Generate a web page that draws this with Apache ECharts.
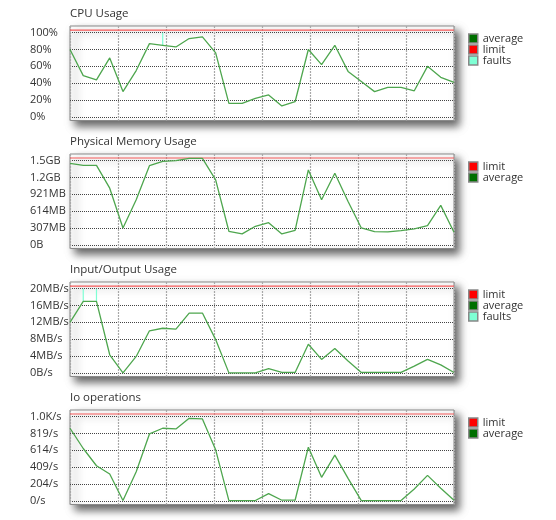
<!DOCTYPE html>
<html>
<head>
<meta charset="utf-8">
<script src="https://cdn.jsdelivr.net/npm/echarts@6/dist/echarts.min.js"></script>
<style>
html,body{margin:0;padding:0;background:#fff;}
#main{width:556px;height:520px;}
</style>
</head>
<body>
<div id="main"></div>
<script>
// ---- data (30 samples per panel) ----
const sampleIndex = [0,1,2,3,4,5,6,7,8,9,10,11,12,13,14,15,16,17,18,19,20,21,22,23,24,25,26,27,28,29];
const xGridTicks = [0,3.625,7.25,10.875,14.5,18.125,21.75,25.375,29];

const titles = ['CPU Usage','Physical Memory Usage','Input/Output Usage','Io operations'];

// CPU (%)
const cpuAverage = [80,49,44,70,30,55,87,85,83,93,95,76,16,16,22,26,13,18,80,62,85,54,42,30,35,35,31,60,47,41];
const cpuLimit = 103;
const cpuFaultIdx = [7];
const cpuFaultTop = 100;
const cpuTicks = [0,20,40,60,80,100];
const cpuTickLabels = ['0%','20%','40%','60%','80%','100%'];

// Physical memory (MB)
const memAverage = [1488,1451,1451,1034,308,822,1445,1524,1536,1576,1576,1185,248,200,339,405,200,266,1367,822,1306,792,308,242,236,260,290,351,720,230];
const memLimit = 1584;
const memTicks = [0,307.2,614.4,921.6,1228.8,1536];
const memTickLabels = ['0B','307MB','614MB','921MB','1.2GB','1.5GB'];

// I/O (MB/s)
const ioAverage = [12.0,17.0,17.0,4.3,0,3.9,10.0,10.6,10.4,14.2,14.2,7.9,0,0,0,1.0,0.1,0.1,6.8,3.2,5.8,2.8,0.1,0.1,0.1,0.1,1.6,3.2,1.9,0.1];
const ioLimit = 20.6;
const ioFaultIdx = [1,2];
const ioFaultTop = 20;
const ioTicks = [0,4,8,12,16,20];
const ioTickLabels = ['0B/s','4MB/s','8MB/s','12MB/s','16MB/s','20MB/s'];

// Io operations (/s)
const opsAverage = [883,637,427,327,5,355,814,883,875,1004,996,621,4,4,4,89,8,8,653,286,556,274,4,4,4,4,145,310,153,8];
const opsLimit = 1056;
const opsTicks = [0,204.8,409.6,614.4,819.2,1024];
const opsTickLabels = ['0/s','204/s','409/s','614/s','819/s','1.0K/s'];

// ---- build ----
const COL_AVG_LINE = '#4ea64e', COL_AVG = '#006f00';
const COL_LIMIT_LINE = '#f65a5a', COL_LIMIT = '#ff0000';
const COL_FAULT = '#7fffd4';
const FONT = '"Open Sans", sans-serif';

const panels = [
  {avg: cpuAverage, limit: cpuLimit, faults: cpuFaultIdx, faultTop: cpuFaultTop, ticks: cpuTicks, labels: cpuTickLabels, legend: ['average','limit','faults']},
  {avg: memAverage, limit: memLimit, faults: null, ticks: memTicks, labels: memTickLabels, legend: ['limit','average']},
  {avg: ioAverage, limit: ioLimit, faults: ioFaultIdx, faultTop: ioFaultTop, ticks: ioTicks, labels: ioTickLabels, legend: ['limit','average','faults']},
  {avg: opsAverage, limit: opsLimit, faults: null, ticks: opsTicks, labels: opsTickLabels, legend: ['limit','average']}
];

const STEP = 128, GRID_TOP = 26, GRID_H = 94.5, GRID_L = 70, GRID_W = 384;
const option = {backgroundColor:'#fff', animation:false, title:[], grid:[], xAxis:[], yAxis:[], legend:[], series:[]};
const legendColors = {average: COL_AVG, limit: COL_LIMIT, faults: COL_FAULT};

panels.forEach((p, k) => {
  const top = p.ticks[p.ticks.length-1];
  option.title.push({text: titles[k], left: GRID_L, top: 7 + k*STEP, padding: 0,
    textStyle:{fontFamily: FONT, fontSize: 11.5, fontWeight:'normal', color:'#333', lineHeight: 14}});
  option.grid.push({left: GRID_L, top: GRID_TOP + k*STEP, width: GRID_W, height: GRID_H,
    show: true, backgroundColor:'#fff', borderColor:'#8a8a8a', borderWidth:1,
    shadowBlur: 8, shadowColor:'rgba(0,0,0,0.6)', shadowOffsetX: 5, shadowOffsetY: 5});
  option.xAxis.push({type:'value', gridIndex:k, min:0, max:29,
    axisLine:{show:false}, axisLabel:{show:false},
    axisTick:{show:false, customValues: xGridTicks},
    splitLine:{show:true, lineStyle:{color:'#a8a8a8', width:1.2, type:[2,1]}}});
  option.yAxis.push({type:'value', gridIndex:k, min: -0.043*top, max: 1.079*top,
    axisLine:{show:false},
    axisTick:{show:false, customValues: p.ticks},
    axisLabel:{show:true, customValues: p.ticks, align:'left', margin:40,
      fontFamily: FONT, fontSize: 11, color:'#333',
      formatter: v => { const i = p.ticks.findIndex(t => Math.abs(t - v) < 1e-6); return i >= 0 ? p.labels[i] : ''; }},
    splitLine:{show:true, lineStyle:{color:'#444', width:1, type:[1,1]}}});
  option.legend.push({orient:'vertical', left: 468, top: 33 + k*STEP, padding:0, itemGap:0,
    itemWidth:9, itemHeight:9, icon:'rect', selectedMode:false,
    textStyle:{fontFamily: FONT, fontSize: 11, color:'#333', lineHeight: 10},
    data: p.legend.map(n => ({name: n, icon:'rect',
      itemStyle:{color: legendColors[n], borderColor:'#888', borderWidth:1.5}}))});
  // limit line
  option.series.push({name:'limit', type:'line', xAxisIndex:k, yAxisIndex:k, symbol:'none', silent:true,
    data: sampleIndex.map(i => [i, p.limit]),
    lineStyle:{color: COL_LIMIT_LINE, width:1.2}, itemStyle:{color: COL_LIMIT}, z:3});
  // faults
  if (p.faults) {
    const fd = [];
    p.faults.forEach(f => { fd.push([f, p.avg[f]]); fd.push([f, p.faultTop]); fd.push([f, '-']); });
    option.series.push({name:'faults', type:'line', xAxisIndex:k, yAxisIndex:k, symbol:'none', silent:true,
      connectNulls:false, data: fd, lineStyle:{color: COL_FAULT, width:1.2}, itemStyle:{color: COL_FAULT}, z:4});
  }
  // average
  option.series.push({name:'average', type:'line', xAxisIndex:k, yAxisIndex:k, symbol:'none', silent:true,
    data: sampleIndex.map(i => [i, p.avg[i]]),
    lineStyle:{color: COL_AVG_LINE, width:1.3}, itemStyle:{color: COL_AVG}, z:5});
});

const chart = echarts.init(document.getElementById('main'), null, {renderer:'canvas'});
chart.setOption(option);
</script>
</body>
</html>
